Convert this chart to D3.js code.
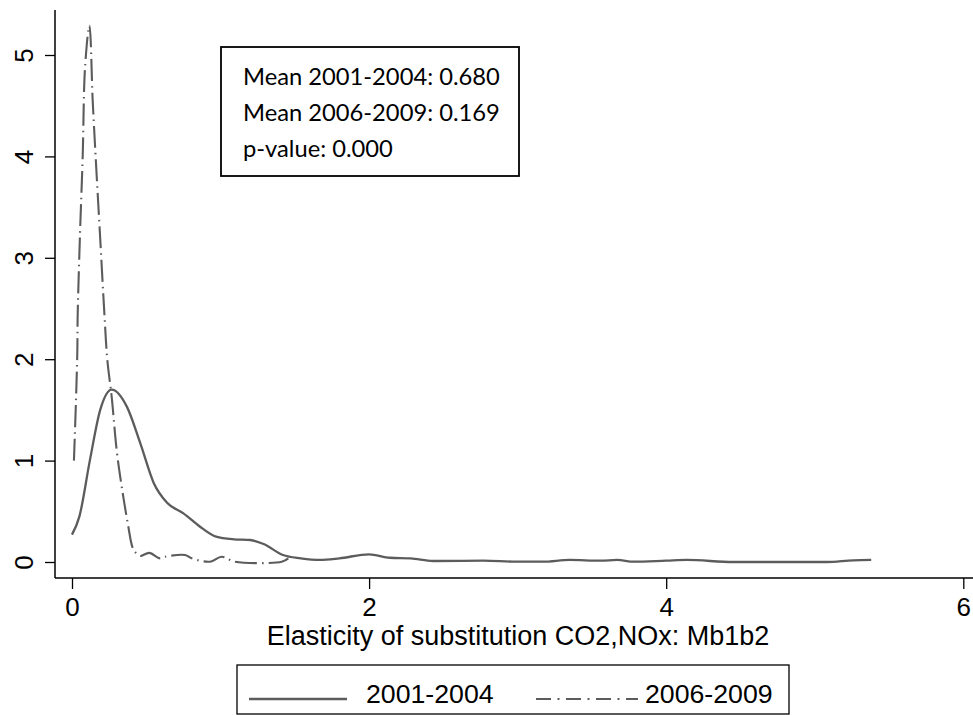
<!DOCTYPE html>
<html>
<head>
<meta charset="utf-8">
<script src="https://cdn.jsdelivr.net/npm/d3@7"></script>
<style>
  html, body { margin: 0; padding: 0; background: #fff; }
  svg { display: block; }
</style>
</head>
<body>
<svg id="chart" width="973" height="715"></svg>
<script>
// ---- Data ----
const series1Label = "2001-2004";
const series1X = [0.0, 0.05, 0.12, 0.19, 0.267, 0.37, 0.46, 0.55, 0.64, 0.75, 0.86, 0.97, 1.09, 1.2, 1.29, 1.42, 1.54, 1.67, 1.8, 2.0, 2.14, 2.28, 2.43, 2.77, 2.99, 3.17, 3.35, 3.56, 3.67, 3.78, 4.0, 4.14, 4.45, 5.08, 5.26, 5.38];
const series1Y = [0.27, 0.45, 1.0, 1.5, 1.70, 1.53, 1.17, 0.78, 0.585, 0.48, 0.35, 0.25, 0.224, 0.217, 0.177, 0.069, 0.036, 0.02, 0.036, 0.076, 0.042, 0.036, 0.01, 0.013, 0.003, 0.003, 0.02, 0.013, 0.02, 0.003, 0.013, 0.02, 0.0, 0.0, 0.017, 0.02];

const series2Label = "2006-2009";
const series2X = [0.013, 0.027, 0.036, 0.038, 0.054, 0.072, 0.088, 0.117, 0.139, 0.159, 0.188, 0.218, 0.238, 0.267, 0.301, 0.335, 0.379, 0.406, 0.424, 0.458, 0.52, 0.592, 0.626, 0.761, 0.806, 0.929, 1.008, 1.097, 1.412, 1.456];
const series2Y = [1.0, 1.6, 2.09, 2.42, 3.24, 4.0, 4.88, 5.29, 4.56, 4.0, 3.24, 2.45, 1.99, 1.63, 1.1, 0.74, 0.35, 0.15, 0.10, 0.06, 0.09, 0.036, 0.052, 0.069, 0.036, 0.003, 0.052, 0.003, 0.003, 0.036];

const xTicks = [0, 2, 4, 6];
const yTicks = [0, 1, 2, 3, 4, 5];
const xTitle = "Elasticity of substitution CO2,NOx: Mb1b2";
const noteLines = ["Mean 2001-2004: 0.680", "Mean 2006-2009: 0.169", "p-value: 0.000"];

// ---- Layout ----
const W = 973, H = 715;
const axisFont = "'Liberation Sans', Arial, sans-serif";
const noteFont = "Lato, 'Open Sans', sans-serif";
const lineColor = "#5c5c5c";

const svg = d3.select("#chart");
svg.append("rect").attr("width", W).attr("height", H).attr("fill", "#fff");

const x = d3.scaleLinear().domain([0, 6]).range([72, 963.3]);
const y = d3.scaleLinear().domain([0, 5]).range([562, 55]);

const plotLeft = 55, plotBottom = 578, plotTop = 10, plotRight = 973;

// Axes lines
svg.append("line").attr("x1", plotLeft).attr("x2", plotLeft).attr("y1", plotTop).attr("y2", plotBottom)
  .attr("stroke", "#000").attr("stroke-width", 1.5);
svg.append("line").attr("x1", plotLeft).attr("x2", plotRight).attr("y1", plotBottom).attr("y2", plotBottom)
  .attr("stroke", "#000").attr("stroke-width", 1.5);

// Y axis
const yAxis = svg.append("g").attr("transform", `translate(${plotLeft},0)`)
  .call(d3.axisLeft(y).tickValues(yTicks).tickSize(10).tickFormat(d3.format("d")));
yAxis.select(".domain").remove();
yAxis.selectAll(".tick line").attr("stroke", "#000").attr("stroke-width", 1.3);
yAxis.selectAll(".tick text")
  .attr("x", null).attr("dy", null)
  .attr("transform", "translate(-22,0) rotate(-90)")
  .attr("text-anchor", "middle")
  .attr("y", 0)
  .attr("fill", "#000")
  .style("font-family", axisFont).style("font-size", "26px");

// X axis
const xAxis = svg.append("g").attr("transform", `translate(0,${plotBottom})`)
  .call(d3.axisBottom(x).tickValues(xTicks).tickSize(11).tickFormat(d3.format("d")));
xAxis.select(".domain").remove();
xAxis.selectAll(".tick line").attr("stroke", "#000").attr("stroke-width", 1.3);
xAxis.selectAll(".tick text")
  .attr("y", 38).attr("dy", null)
  .attr("fill", "#000")
  .style("font-family", axisFont).style("font-size", "26px");

// X title
svg.append("text").attr("x", 518).attr("y", 645)
  .attr("text-anchor", "middle").attr("fill", "#000")
  .style("font-family", axisFont).style("font-size", "27px")
  .text(xTitle);

// Curves
const line = d3.line().x(d => x(d[0])).y(d => y(d[1])).curve(d3.curveMonotoneX);
const s1 = series1X.map((v, i) => [v, series1Y[i]]);
const s2 = series2X.map((v, i) => [v, series2Y[i]]);

svg.append("path").datum(s1).attr("d", line)
  .attr("fill", "none").attr("stroke", lineColor).attr("stroke-width", 2.3)
  .attr("stroke-linejoin", "round");

const line2 = d3.line().x(d => x(d[0])).y(d => y(d[1])).curve(d3.curveCatmullRom.alpha(0.5));
svg.append("path").datum(s2).attr("d", line2)
  .attr("fill", "none").attr("stroke", lineColor).attr("stroke-width", 2.1)
  .attr("stroke-dasharray", "22,5,1.5,5");

// Annotation box
svg.append("rect").attr("x", 221).attr("y", 47).attr("width", 298).attr("height", 129)
  .attr("fill", "#fff").attr("stroke", "#000").attr("stroke-width", 1.8);
const noteG = svg.append("g");
const noteTexts = noteG.selectAll("text").data(noteLines).join("text")
  .attr("x", 243).attr("y", (d, i) => 85 + i * 36)
  .attr("fill", "#000")
  .style("font-family", noteFont).style("font-size", "24px")
  .text(d => d);
// fit first line to reference width (~257px)
const w0 = noteTexts.node().getComputedTextLength();
if (w0 > 0) {
  const fs = 24 * 257 / w0;
  noteTexts.style("font-size", fs + "px");
}

// Legend
const legend = svg.append("g");
legend.append("rect").attr("x", 237).attr("y", 665).attr("width", 552).attr("height", 49)
  .attr("fill", "#fff").attr("stroke", "#000").attr("stroke-width", 1.3);
legend.append("line").attr("x1", 249).attr("x2", 347).attr("y1", 699).attr("y2", 699)
  .attr("stroke", lineColor).attr("stroke-width", 2.3);
legend.append("text").attr("x", 366).attr("y", 702.5).attr("fill", "#000")
  .style("font-family", axisFont).style("font-size", "26.7px").text(series1Label);
legend.append("line").attr("x1", 536).attr("x2", 638).attr("y1", 699).attr("y2", 699)
  .attr("stroke", lineColor).attr("stroke-width", 2.1).attr("stroke-dasharray", "15,6.5,2,6.5");
legend.append("text").attr("x", 645).attr("y", 702.5).attr("fill", "#000")
  .style("font-family", axisFont).style("font-size", "26.7px").text(series2Label);
</script>
</body>
</html>
